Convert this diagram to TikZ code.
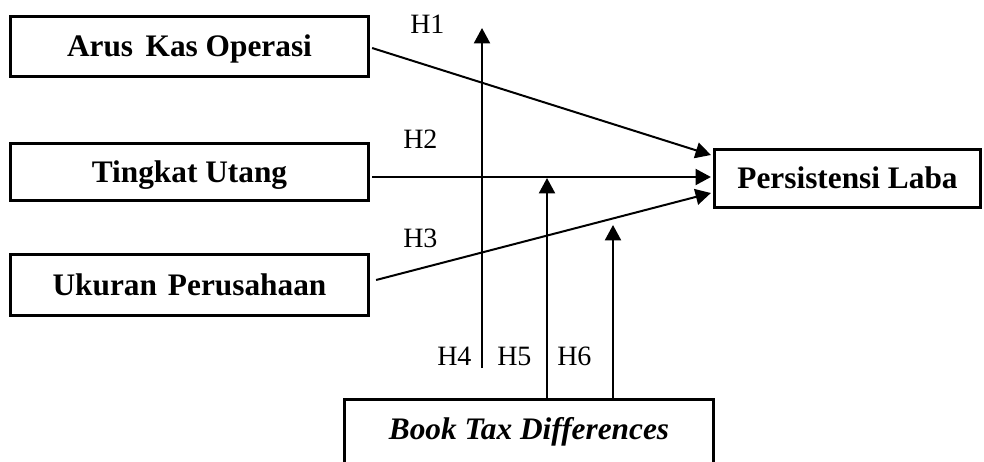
\documentclass[tikz,border=0pt]{standalone}
\usepackage{fontspec}
\setmainfont{Liberation Serif}
\usetikzlibrary{arrows.meta,calc}
\begin{document}
\begin{tikzpicture}[x=0.75pt,y=-0.75pt,
  box/.style={draw,line width=2.4pt,minimum width=268.5pt,inner sep=0pt,
    font=\fontsize{23.5}{28}\selectfont\bfseries,text height=16pt,text depth=1pt},
  hlab/.style={anchor=base west,inner sep=0pt,font=\fontsize{21}{25}\selectfont},
  arr/.style={line width=1.5pt,-{Triangle[length=11.5pt,width=12pt]}},
  plain/.style={line width=1.5pt}]
\clip (0,0) rectangle (984,461);
\fill[white] (0,0) rectangle (984,461);
% boxes
\node[box,minimum height=45pt] (A) at (189.5,46.5) {Arus\hspace{0.15em} Kas Operasi};
\node[box,minimum height=42.75pt] (T) at (189.5,172) {Tingkat Utang};
\node[box,minimum height=45.75pt] (U) at (189.5,285) {Ukuran\hspace{0.1em} Perusahaan};
\node[box,minimum width=199.5pt,minimum height=43.5pt] (P) at (847.5,178.5) {Persistensi Laba};
\node[box,minimum width=276.5pt,minimum height=60pt,anchor=north,text depth=16pt,
  font=\fontsize{23.5}{28}\selectfont\bfseries\itshape] (B) at (529,397.7) {Book Tax Differences};
% labels
\node[hlab] (l1) at (410,33) {H1};
\node[hlab] (l2) at (403,148) {H2};
\node[hlab] (l3) at (403,247) {H3};
\node[hlab] (l4) at (437,365) {H4};
\node[hlab] (l5) at (497,365) {H5};
\node[hlab] (l6) at (557,365) {H6};
% direct paths
\coordinate (t2) at ($(P.west)+(-2,-1.5)$);
\draw[arr] ($(A.east)+(2,1.5)$) -- ($(P.west)+(-2,-23.5)$);
\draw[arr] ($(T.east |- t2)+(2,0)$) -- (t2);
\draw[arr] ($(U.east)+(6,-5)$) -- ($(P.west)+(-2,14.5)$);
% moderation paths
\coordinate (h1a) at (482,368);
\coordinate (h1b) at (482,28);
\draw[arr] (h1a) -- (h1b);
\coordinate (h5) at (547,178);
\coordinate (h6) at (613,225);
\draw[arr] (B.north -| h5) -- (h5);
\draw[arr] (B.north -| h6) -- (h6);
\end{tikzpicture}
\end{document}
